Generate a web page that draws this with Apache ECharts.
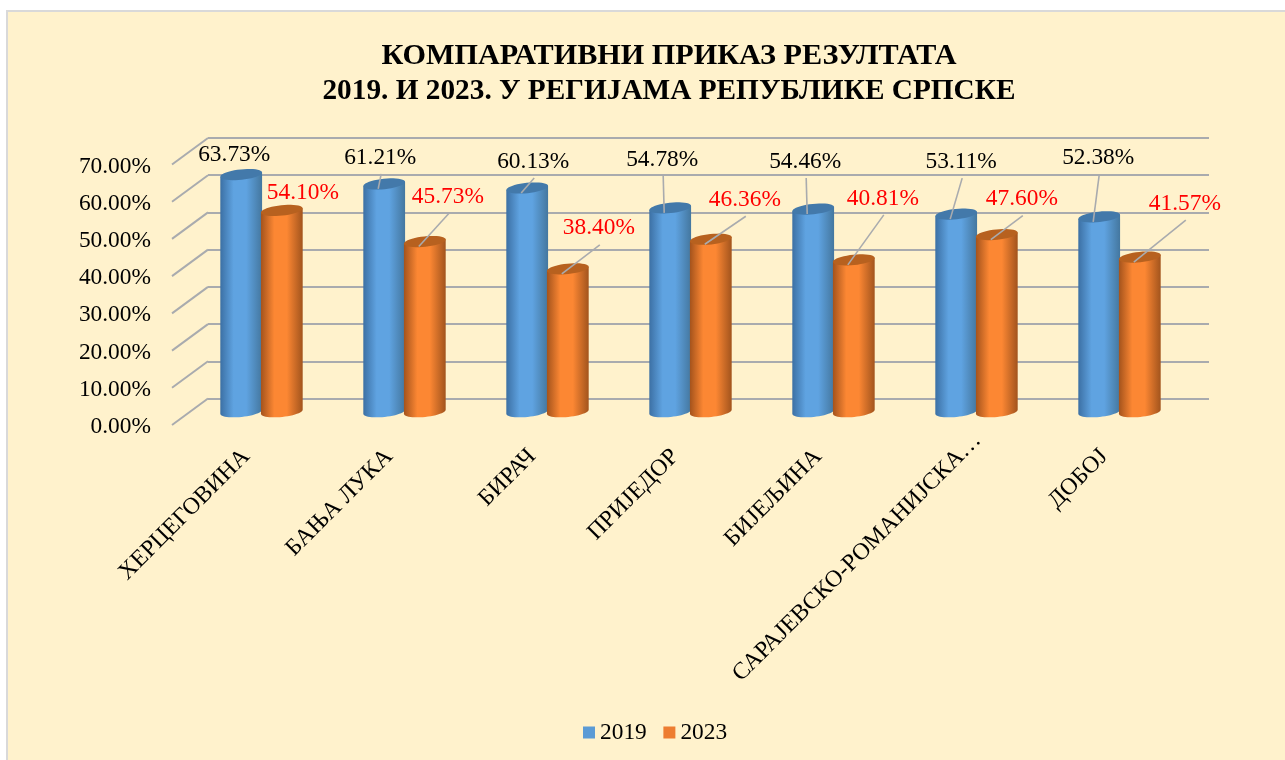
<!DOCTYPE html>
<html>
<head>
<meta charset="utf-8">
<style>
html,body{margin:0;padding:0;background:#fff;overflow:hidden;width:1285px;height:760px;}
#frame{position:absolute;left:6px;top:10px;width:1290px;height:760px;background:#FFF2CC;border:2px solid #d9d9d9;}
#main{position:absolute;left:0;top:0;width:1285px;height:760px;}
</style>
<script src="https://cdn.jsdelivr.net/npm/echarts@6/dist/echarts.min.js"></script>
</head>
<body>
<div id="frame"></div>
<div id="main"></div>
<script>
const categories = ['ХЕРЦЕГОВИНА','БАЊА ЛУКА','БИРАЧ','ПРИЈЕДОР','БИЈЕЉИНА','САРАЈЕВСКО-РОМАНИЈСКА…','ДОБОЈ'];
const values2019 = [63.73,61.21,60.13,54.78,54.46,53.11,52.38];
const values2023 = [54.10,45.73,38.40,46.36,40.81,47.60,41.57];
const axisTicks = [0,10,20,30,40,50,60,70];
const seriesNames = ['2019','2023'];
const titleLine1 = 'КОМПАРАТИВНИ ПРИКАЗ РЕЗУЛТАТА';
const titleLine2 = '2019. И 2023. У РЕГИЈАМА РЕПУБЛИКЕ СРПСКЕ';

// manual label placement, relative to the top of each cylinder: [dx, dy, hasLeader]
const labelShift2019 = [[-7,-20,0],[-4,-27,1],[6,-27,1],[-8,-49,1],[-8,-48,1],[5,-53,1],[-1,-59,1]];
const labelShift2023 = [[21,-18,0],[23,-45,1],[31,-41,1],[34,-40,1],[29,-62,1],[25,-36,1],[45,-54,1]];
// the truncated label sits further along its diagonal than the others
const categoryLabelPad = [23,23,23,23,23,0,23];

const SERIF = '"Liberation Serif","Times New Roman",serif';
const FS = 23.4;
const GRID_COLOR = '#a9abae';
const DEPTH_X = 36, DEPTH_Y = 26.5;
const PLOT_W = 1001, PLOT_H = 260.5, FRONT_L = 172, FRONT_T = 164.5;
const RX = 21, RY = 5.2, TILT = -6 * Math.PI / 180;

function ellipsePoint(cx, cy, t){
  const ex = RX * Math.cos(t), ey = RY * Math.sin(t);
  return [cx + ex*Math.cos(TILT) - ey*Math.sin(TILT), cy + ex*Math.sin(TILT) + ey*Math.cos(TILT)];
}
function ellipseArc(cx, cy, from, to, n){
  const pts = [];
  for (let k = 0; k <= n; k++) pts.push(ellipsePoint(cx, cy, from + (to - from) * k / n));
  return pts;
}

function cylinderSeries(name, values, shifts, side, pal, labelColor){
  return {
    name: name, type: 'custom', xAxisIndex: 2, yAxisIndex: 2, z: 3, silent: true,
    itemStyle: {color: pal.legend},
    clip: false,
    data: values.map((v,i) => [i,v]),
    renderItem(params, api){
      const i = api.value(0), v = api.value(1);
      const band = api.size([1,0])[0];
      const top = api.coord([i, v]), base = api.coord([i, 0]);
      const cx = top[0] + side * band * 0.142;
      const tPts = ellipseArc(cx, top[1], 0, Math.PI*2, 40);
      const body = [ellipsePoint(cx, top[1], Math.PI), ellipsePoint(cx, top[1], 0)]
        .concat(ellipseArc(cx, base[1], 0, Math.PI, 24));
      const s = shifts[i];
      const lx = cx + s[0], ly = top[1] + s[1];
      const children = [
        {type:'polygon', shape:{points:body}, style:{fill:new echarts.graphic.LinearGradient(0,0,1,0,[
          {offset:0,color:pal.edgeL},{offset:0.32,color:pal.mid},{offset:0.62,color:pal.mid},{offset:1,color:pal.edgeR}])}},
        {type:'polygon', shape:{points:tPts}, style:{fill:pal.top}}
      ];
      if (s[2]){
        children.push({type:'line', shape:{x1:lx+1, y1:ly+17, x2:cx-6, y2:top[1]+5},
          style:{stroke:GRID_COLOR, lineWidth:1.6}});
      }
      children.push({type:'text', style:{text:v.toFixed(2)+'%', x:lx, y:ly+0.5, textAlign:'center', textVerticalAlign:'middle',
        font: FS+'px '+SERIF, fill:labelColor}});
      return {type:'group', children};
    }
  };
}

function catAxis(gridIndex, extra){
  return Object.assign({type:'category', gridIndex, data:categories, boundaryGap:true,
    axisLine:{show:false}, axisTick:{show:false}, axisLabel:{show:false}, splitLine:{show:false}}, extra||{});
}
function valAxis(gridIndex, extra){
  return Object.assign({type:'value', gridIndex, min:axisTicks[0], max:axisTicks[axisTicks.length-1], interval:10,
    axisLine:{show:false}, axisTick:{show:false}, axisLabel:{show:false}, splitLine:{show:false}}, extra||{});
}
function titleLine(text, top, fontSize){
  return {text, left:664, top, textAlign:'center',
    textStyle:{fontFamily:SERIF, fontWeight:'bold', fontSize, lineHeight:35, color:'#000'}};
}

const option = {
  animation:false,
  backgroundColor:'transparent',
  title:[titleLine(titleLine1, 34, 30.2), titleLine(titleLine2, 69, 29.3)],
  legend:{data:seriesNames, left:578, top:716, icon:'rect', itemWidth:12, itemHeight:12, itemGap:16.6,
    textStyle:{fontFamily:SERIF, fontSize:FS, color:'#000'}},
  grid:[
    {left:FRONT_L+DEPTH_X, top:FRONT_T-DEPTH_Y, width:PLOT_W, height:PLOT_H},       // back wall
    {left:FRONT_L, top:FRONT_T, width:PLOT_W, height:PLOT_H},                       // front edge of the wall
    {left:FRONT_L+DEPTH_X/2, top:FRONT_T-DEPTH_Y/2, width:PLOT_W, height:PLOT_H},   // cylinders
    {left:FRONT_L+19, top:FRONT_T+2, width:PLOT_W, height:PLOT_H}                   // axis labels
  ],
  xAxis:[
    catAxis(0),
    catAxis(1),
    catAxis(2),
    catAxis(3,{
      data:categories.map((c,i) => ({value:c, textStyle:{padding:[0,categoryLabelPad[i],0,0]}})),
      axisLabel:{show:true, interval:0, rotate:45, margin:9.7, fontFamily:SERIF, fontSize:FS+0.4, color:'#000'}})
  ],
  yAxis:[
    valAxis(0,{splitLine:{show:true, lineStyle:{color:GRID_COLOR, width:2}}}),
    valAxis(1),
    valAxis(2),
    valAxis(3,{axisLabel:{show:true, margin:40, fontFamily:SERIF, fontSize:FS, color:'#000',
      formatter:v => v.toFixed(2)+'%'}})
  ],
  series:[
    {name:'wall', type:'custom', xAxisIndex:1, yAxisIndex:1, z:1, silent:true, clip:false,
      data:axisTicks.map(v => [0,v]),
      renderItem(params, api){
        const y = api.coord([0, api.value(1)])[1];
        const x = params.coordSys.x;
        return {type:'line', shape:{x1:x, y1:y, x2:x+DEPTH_X, y2:y-DEPTH_Y},
          style:{stroke:GRID_COLOR, lineWidth:2}};
      }},
    cylinderSeries(seriesNames[0], values2019, labelShift2019, -1,
      {legend:'#5B9BD5', edgeL:'#3c70a4', mid:'#5fa3e1', edgeR:'#44779f', top:'#4379aa'}, '#000'),
    cylinderSeries(seriesNames[1], values2023, labelShift2023, 1,
      {legend:'#ED7D31', edgeL:'#a4531c', mid:'#fc8733', edgeR:'#a2541d', top:'#b7611f'}, '#ff0000')
  ]
};
echarts.init(document.getElementById('main'), null, {renderer:'canvas'}).setOption(option);
</script>
</body>
</html>
